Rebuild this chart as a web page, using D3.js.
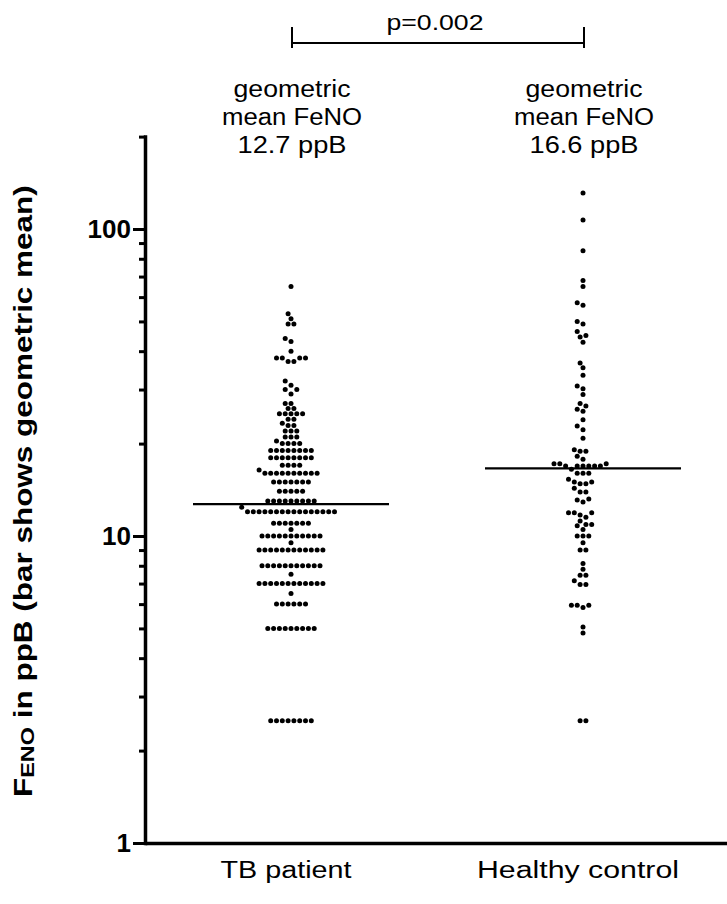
<!DOCTYPE html>
<html><head><meta charset="utf-8">
<script src="https://cdn.jsdelivr.net/npm/d3@7"></script>
<style>
body{margin:0;background:#fff;}
svg{display:block;}
text{font-family:"Liberation Sans",Arial,Helvetica,sans-serif;fill:#000;}
</style>
</head><body>
<svg id="chart" width="727" height="904"></svg>
<script>
// ---------------- data ----------------
const categories = ["TB patient", "Healthy control"];
const geoMeans = [12.7, 16.6];
const meanLabelLines = [
  ["geometric", "mean FeNO", "12.7 ppB"],
  ["geometric", "mean FeNO", "16.6 ppB"]
];
const pValueLabel = "p=0.002";
const yMajorTicks = [1, 10, 100];
const yDomain = [1, 200];

const tbValues = [
  2.5,2.5,2.5,2.5,2.5,2.5,2.5,2.5,
  5,5,5,5,5,5,5,5,5,
  6,6,6,6,6,6,
  6.5,
  7,7,7,7,7,7,7,7,7,7,7,7,
  7.5,
  8,8,8,8,8,8,8,8,8,8,8,
  9,9,9,9,9,9,9,9,9,9,9,9,
  9.5,
  10,10,10,10,10,10,10,10,10,10,10,
  10.5,
  11,11,11,11,11,11,11,
  12,12,12,12,12,12,12,12,12,12,12,12,12,12,12,12,
  12.4,
  13,13,13,13,13,13,13,13,13,
  14,14,14,14,14,
  15,15,15,15,15,15,15,
  16,16,16,16,16,16,16,16,16,16,
  16.4,
  17,17,17,17,
  18,18,18,18,18,18,18,18,
  19,19,19,19,19,19,19,19,
  20,20,20,20,
  20.4,
  21,21,21,
  22,22,22,
  22.9,22.9,23.3,24,24,
  25,25,25,25,25,
  26,26,
  27,27,
  29,
  30,30,
  31,
  32,
  37,37,
  38,38,38,38,
  40,43,44,
  49,49,
  51,53,65
];

const hcValues = [
  2.5,2.5,
  4.83,5.05,
  5.85,5.95,5.95,5.95,
  6.95,6.95,7.15,7.45,7.45,
  7.8,8.14,
  9,9,9.5,
  10,10,10,10.5,10.8,10.9,10.9,11.2,
  11.5,11.7,11.9,11.9,11.9,
  12.9,13.1,13.2,
  13.9,13.9,14.3,
  14.8,14.8,15,15,15.3,
  16,16,16,16.5,
  16.9,16.9,16.9,16.9,16.9,16.9,
  17.2,17.2,17.2,
  17.8,18.2,
  18.9,18.9,19.1,
  20.8,22.2,22.8,23.9,
  25.5,25.9,26.5,27,
  28.9,30.2,30.8,33.4,
  35.3,36.6,
  42.8,44.5,45,46.4,49,50,
  56.5,57.5,
  65,68,85,107,131
];
const seriesValues = [tbValues, hcValues];

// ---------------- layout ----------------
const svg = d3.select("#chart");
const axisX = 145;
const y = d3.scaleLog().domain(yDomain).range([843, 136.6]);
const x = d3.scaleBand().domain(categories).range([axisX, axisX + 584]).padding(0);

// y axis
const allTicks = y.ticks();
const yAxis = d3.axisLeft(y)
  .tickValues(allTicks)
  .tickSize(12)
  .tickSizeOuter(0)
  .tickPadding(2)
  .tickFormat(d => yMajorTicks.includes(d) ? d3.format("d")(d) : "");
const gy = svg.append("g").attr("transform", `translate(${axisX},0)`).call(yAxis);
gy.select(".domain").attr("stroke", "#000").attr("stroke-width", 3.5).attr("stroke-linecap","square");
gy.selectAll(".tick line")
  .attr("stroke", "#000").attr("stroke-width", 3)
  .attr("x2", d => yMajorTicks.includes(d) ? -12 : -6);
gy.selectAll(".tick text")
  .attr("font-size", 26).attr("font-weight", "bold")
  .attr("font-family", '"Liberation Sans",Arial,sans-serif')
  .attr("fill", "#000");

// x axis
const xAxis = d3.axisBottom(x).tickSize(0).tickSizeOuter(0).tickPadding(19);
const gx = svg.append("g").attr("transform", `translate(0,843)`).call(xAxis);
gx.select(".domain").attr("stroke", "#000").attr("stroke-width", 3.5);
const catWidths = {"TB patient": 131, "Healthy control": 202};
gx.selectAll(".tick text")
  .attr("font-size", 23)
  .attr("font-family", '"Liberation Sans",Arial,sans-serif')
  .attr("fill", "#000")
  .attr("x", -5)
  .attr("textLength", d => catWidths[d])
  .attr("lengthAdjust", "spacingAndGlyphs");

// beeswarm placement
const dotStep = 5.8, dotR = 2.5;
function swarm(values, cx) {
  const sorted = values.slice().sort((a, b) => a - b);
  const placed = [];
  const collide = (px, py) => placed.some(p => (p.x - px) ** 2 + (p.y - py) ** 2 < (dotStep * 0.97) ** 2);
  for (const [v, arr] of d3.groups(sorted, d => d)) {
    const py = y(v), n = arr.length;
    const row = d3.range(n).map(i => cx + (i - (n - 1) / 2) * dotStep);
    if (row.every(px => !collide(px, py))) {
      row.forEach(px => placed.push({x: px, y: py, v}));
      continue;
    }
    for (let i = 0; i < n; i++) {
      for (let k = 0; k < 400; k++) {
        const off = k === 0 ? 0 : (k % 2 === 1 ? -Math.ceil(k / 2) : Math.ceil(k / 2)) * dotStep / 2;
        if (!collide(cx + off, py)) { placed.push({x: cx + off, y: py, v}); break; }
      }
    }
  }
  return placed;
}

categories.forEach((cat, i) => {
  const cx = x(cat) + x.bandwidth() / 2;
  const pts = swarm(seriesValues[i], cx);
  svg.append("g").selectAll("circle").data(pts).join("circle")
    .attr("cx", d => d.x).attr("cy", d => d.y).attr("r", dotR).attr("fill", "#000");
  // geometric mean bar
  svg.append("line")
    .attr("x1", cx - 98).attr("x2", cx + 98)
    .attr("y1", y(geoMeans[i])).attr("y2", y(geoMeans[i]))
    .attr("stroke", "#000").attr("stroke-width", 2.2);
  // annotation
  const widths = [117, 140, 109];
  meanLabelLines[i].forEach((line, j) => {
    svg.append("text")
      .attr("x", cx + 1).attr("y", 97 + j * 28)
      .attr("text-anchor", "middle")
      .attr("font-size", 23.5)
      .attr("textLength", widths[j]).attr("lengthAdjust", "spacingAndGlyphs")
      .text(line);
  });
});

// significance bracket
const c0 = x(categories[0]) + x.bandwidth() / 2, c1 = x(categories[1]) + x.bandwidth() / 2;
const br = svg.append("g").attr("stroke", "#000").attr("stroke-width", 2);
br.append("line").attr("x1", c0 + 1).attr("x2", c1 + 1).attr("y1", 43).attr("y2", 43);
br.append("line").attr("x1", c0 + 1).attr("x2", c0 + 1).attr("y1", 27).attr("y2", 48);
br.append("line").attr("x1", c1 + 1).attr("x2", c1 + 1).attr("y1", 27).attr("y2", 48);
svg.append("text").attr("x", (c0 + c1) / 2 - 2).attr("y", 30)
  .attr("text-anchor", "middle").attr("font-size", 21.5)
  .attr("textLength", 97).attr("lengthAdjust", "spacingAndGlyphs")
  .text(pValueLabel);

// y axis title
const title = svg.append("text").attr("font-weight", "bold").attr("font-size", 25.5);
title.append("tspan").text("F");
title.append("tspan").attr("font-size", 19).attr("dy", 1.5).text("ENO");
title.append("tspan").attr("dy", -1.5).text(" in ppB (bar shows geometric mean)");
const L = title.node().getComputedTextLength();
title.attr("transform", `translate(32,797) rotate(-90) scale(${612 / L},1)`);
</script>
</body></html>
